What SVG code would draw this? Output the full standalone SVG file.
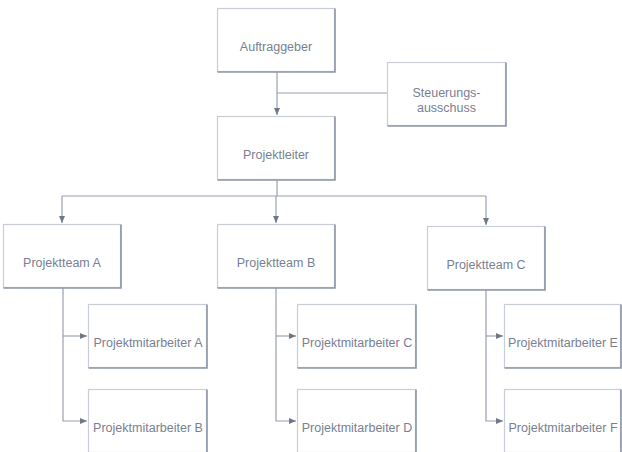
<svg xmlns="http://www.w3.org/2000/svg" width="622" height="452" viewBox="0 0 622 452">
<style>
.box{fill:#ffffff;stroke:#c9cdd6;stroke-width:1.2}
.sh{fill:none;stroke:#8e96a7;stroke-width:1.6}
.t{font-family:"Liberation Sans",Arial,sans-serif;font-size:12.5px;fill:#788092;text-anchor:middle}
.c{fill:none;stroke:#98a0b0;stroke-width:1.2}
</style>
<defs>
<marker id="ah" markerWidth="8" markerHeight="8" refX="7" refY="4" orient="auto" markerUnits="userSpaceOnUse">
<path d="M0,1 L7,4 L0,7 Z" fill="#6f7889"/>
</marker>
</defs>
<rect width="622" height="452" fill="#ffffff"/>
<g id="connectors">
<path class="c" d="M277,72 V115" marker-end="url(#ah)"/>
<path class="c" d="M277,93 H387"/>
<path class="c" d="M277,180 V196"/>
<path class="c" d="M62,196 H486"/>
<path class="c" d="M62,196 V223" marker-end="url(#ah)"/>
<path class="c" d="M276,196 V223" marker-end="url(#ah)"/>
<path class="c" d="M486,196 V225" marker-end="url(#ah)"/>
<path class="c" d="M63,288 V421 H87" marker-end="url(#ah)"/>
<path class="c" d="M63,336 H87" marker-end="url(#ah)"/>
<path class="c" d="M276,288 V421 H296" marker-end="url(#ah)"/>
<path class="c" d="M276,336 H296" marker-end="url(#ah)"/>
<path class="c" d="M486,290 V421 H503" marker-end="url(#ah)"/>
<path class="c" d="M486,336 H503" marker-end="url(#ah)"/>
</g>
<g id="auftraggeber">
<rect class="box" x="217.5" y="8.5" width="117" height="63"/>
<path class="sh" d="M335,8.5 V72 H217.5"/>
<text class="t" x="276" y="51">Auftraggeber</text>
</g>
<g id="steuerungsausschuss">
<rect class="box" x="387.5" y="62.5" width="118" height="63"/>
<path class="sh" d="M506,62.5 V126 H387.5"/>
<text class="t" x="446.5" y="97">Steuerungs-</text>
<text class="t" x="446.5" y="112">ausschuss</text>
</g>
<g id="projektleiter">
<rect class="box" x="217.5" y="116.5" width="117" height="63"/>
<path class="sh" d="M335,116.5 V180 H217.5"/>
<text class="t" x="276" y="159">Projektleiter</text>
</g>
<g id="teamA">
<rect class="box" x="3.5" y="224.5" width="117" height="63"/>
<path class="sh" d="M121,224.5 V288 H3.5"/>
<text class="t" x="62" y="267">Projektteam A</text>
</g>
<g id="teamB">
<rect class="box" x="217.5" y="224.5" width="117" height="63"/>
<path class="sh" d="M335,224.5 V288 H217.5"/>
<text class="t" x="276" y="267">Projektteam B</text>
</g>
<g id="teamC">
<rect class="box" x="427.5" y="226.5" width="117" height="63"/>
<path class="sh" d="M545,226.5 V290 H427.5"/>
<text class="t" x="486" y="269">Projektteam C</text>
</g>
<g id="mitarbeiterA">
<rect class="box" x="88.5" y="304.5" width="118" height="63"/>
<path class="sh" d="M207,304.5 V368 H88.5"/>
<text class="t" x="148" y="347">Projektmitarbeiter A</text>
</g>
<g id="mitarbeiterB">
<rect class="box" x="88.5" y="389.5" width="118" height="63"/>
<path class="sh" d="M207,389.5 V453"/>
<text class="t" x="148" y="432">Projektmitarbeiter B</text>
</g>
<g id="mitarbeiterC">
<rect class="box" x="297.5" y="304.5" width="118" height="63"/>
<path class="sh" d="M416,304.5 V368 H297.5"/>
<text class="t" x="357" y="347">Projektmitarbeiter C</text>
</g>
<g id="mitarbeiterD">
<rect class="box" x="297.5" y="389.5" width="118" height="63"/>
<path class="sh" d="M416,389.5 V453"/>
<text class="t" x="357" y="432">Projektmitarbeiter D</text>
</g>
<g id="mitarbeiterE">
<rect class="box" x="504.5" y="304.5" width="116" height="63"/>
<path class="sh" d="M621,304.5 V368 H504.5"/>
<text class="t" x="563" y="347">Projektmitarbeiter E</text>
</g>
<g id="mitarbeiterF">
<rect class="box" x="504.5" y="389.5" width="116" height="63"/>
<path class="sh" d="M621,389.5 V453"/>
<text class="t" x="563" y="432">Projektmitarbeiter F</text>
</g>
</svg>
